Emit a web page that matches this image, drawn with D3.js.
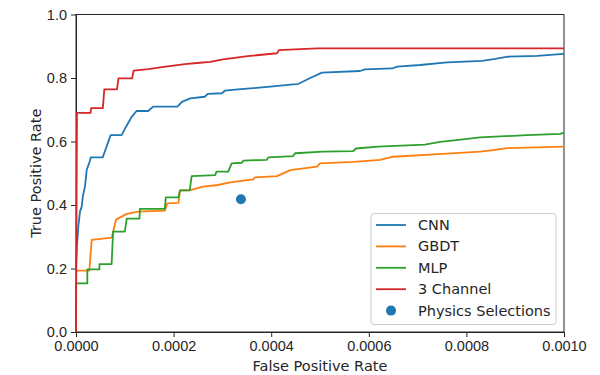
<!DOCTYPE html>
<html>
<head>
<meta charset="utf-8">
<script src="https://cdn.jsdelivr.net/npm/d3@7"></script>
<style>
  body { margin: 0; background: #fff; }
  svg { font-family: "DejaVu Sans", sans-serif; }
  .axis text { font-size: 14.5px; fill: #262626; }
  .axis path, .axis line { stroke: #262626; }
</style>
</head>
<body>
<svg id="chart"></svg>
<script>
// ROC points as [false positive rate, true positive rate]
const cnn = [
  [0, 0], [0, 0.20], [0.000002, 0.27], [0.0000047, 0.332], [0.0000082, 0.38], [0.0000117, 0.395],
  [0.0000143, 0.43], [0.0000184, 0.458], [0.0000219, 0.51], [0.0000287, 0.54], [0.000030, 0.55],
  [0.0000547, 0.55], [0.0000594, 0.57], [0.000071, 0.62], [0.0000936, 0.62], [0.000102, 0.645],
  [0.000113, 0.675], [0.000124, 0.696], [0.000148, 0.696], [0.000158, 0.71], [0.000208, 0.71],
  [0.000217, 0.725], [0.000234, 0.736], [0.000264, 0.741], [0.00027, 0.75], [0.000299, 0.752],
  [0.000305, 0.76], [0.000332, 0.764], [0.000357, 0.767], [0.000414, 0.775], [0.000445, 0.78],
  [0.000455, 0.781], [0.00048, 0.80], [0.000504, 0.817], [0.000582, 0.822], [0.000592, 0.827],
  [0.000648, 0.83], [0.000658, 0.836], [0.000705, 0.841], [0.00076, 0.849], [0.000832, 0.854],
  [0.000859, 0.86], [0.000885, 0.867], [0.000945, 0.87], [0.000992, 0.875], [0.001, 0.876]
];
const gbdt = [
  [0, 0], [0, 0.193], [0.0000273, 0.193], [0.0000322, 0.29], [0.0000732, 0.297], [0.000082, 0.354],
  [0.000104, 0.372], [0.000128, 0.379], [0.000182, 0.382], [0.000187, 0.405], [0.00021, 0.407],
  [0.000213, 0.445], [0.000234, 0.447], [0.00026, 0.458], [0.000291, 0.463], [0.000316, 0.471],
  [0.000363, 0.481], [0.000367, 0.487], [0.000412, 0.491], [0.000439, 0.51], [0.000494, 0.521],
  [0.0005, 0.531], [0.000568, 0.536], [0.000623, 0.542], [0.00065, 0.552], [0.000752, 0.561],
  [0.000828, 0.568], [0.000855, 0.573], [0.000883, 0.579], [0.001, 0.584]
];
const mlp = [
  [0, 0], [0, 0.153], [0.0000232, 0.153], [0.0000232, 0.197], [0.000048, 0.197], [0.000048, 0.214],
  [0.000073, 0.214], [0.000076, 0.316], [0.0001, 0.316], [0.000104, 0.357], [0.00013, 0.357],
  [0.000131, 0.388], [0.000182, 0.388], [0.000184, 0.424], [0.00021, 0.424], [0.000213, 0.446],
  [0.000233, 0.446], [0.000237, 0.491], [0.000285, 0.494], [0.000288, 0.505], [0.000312, 0.505],
  [0.000319, 0.531], [0.00034, 0.533], [0.000343, 0.54], [0.000391, 0.542], [0.000394, 0.55],
  [0.000445, 0.554], [0.000449, 0.563], [0.000506, 0.568], [0.000568, 0.57], [0.000574, 0.578],
  [0.000619, 0.584], [0.000715, 0.59], [0.000746, 0.599], [0.000793, 0.607], [0.000828, 0.613],
  [0.000924, 0.62], [0.000992, 0.624], [0.001, 0.628]
];
const threeChannel = [
  [0, 0], [0.000002, 0.69], [0.00003, 0.69], [0.000031, 0.705], [0.000055, 0.705], [0.000058, 0.764],
  [0.000084, 0.764], [0.000087, 0.799], [0.000115, 0.799], [0.000118, 0.823], [0.000148, 0.828],
  [0.000176, 0.834], [0.000223, 0.844], [0.000254, 0.848], [0.000275, 0.851], [0.000301, 0.859],
  [0.000352, 0.869], [0.000412, 0.878], [0.000416, 0.888], [0.000494, 0.893], [0.001, 0.893]
];
const physicsSelection = [0.000338, 0.418];

const seriesNames = ["CNN", "GBDT", "MLP", "3 Channel"];
const seriesData = [cnn, gbdt, mlp, threeChannel];
const colors = ["#1f77b4", "#ff7f0e", "#2ca02c", "#d62728"];
const pointName = "Physics Selections";
const xTicks = [0, 0.0002, 0.0004, 0.0006, 0.0008, 0.001];
const yTicks = [0, 0.2, 0.4, 0.6, 0.8, 1.0];

const svgWidth = 600, svgHeight = 375;
const margin = { top: 14.5, right: 36, bottom: 43, left: 76 };
const width = svgWidth - margin.left - margin.right;
const height = svgHeight - margin.top - margin.bottom;
const fontSize = 14.5;

const svg = d3.select("#chart").attr("width", svgWidth).attr("height", svgHeight);
const g = svg.append("g").attr("transform", `translate(${margin.left},${margin.top})`);

const x = d3.scaleLinear().domain([0, 0.001]).range([0, width]);
const y = d3.scaleLinear().domain([0, 1]).range([height, 0]);

// 坐标轴
g.append("g")
  .attr("class", "axis")
  .attr("transform", `translate(0,${height})`)
  .call(d3.axisBottom(x).tickValues(xTicks).tickFormat(d => d.toFixed(4)).tickSize(5).tickPadding(4).tickSizeOuter(0));

g.append("g")
  .attr("class", "axis")
  .call(d3.axisLeft(y).tickValues(yTicks).tickFormat(d => d.toFixed(1)).tickSize(5).tickPadding(4).tickSizeOuter(0));

// 边框
g.append("rect")
  .attr("width", width).attr("height", height)
  .attr("fill", "none").attr("stroke", "#262626").attr("stroke-width", 1);

// 曲线
const line = d3.line().x(d => x(d[0])).y(d => y(d[1]));
seriesData.forEach((data, i) => {
  g.append("path")
    .datum(data)
    .attr("d", line)
    .attr("fill", "none")
    .attr("stroke", colors[i])
    .attr("stroke-width", 1.8)
    .attr("stroke-linejoin", "round");
});

g.append("circle")
  .attr("cx", x(physicsSelection[0]))
  .attr("cy", y(physicsSelection[1]))
  .attr("r", 5)
  .attr("fill", "#1f77b4");

// 坐标轴标题
svg.append("text")
  .attr("x", margin.left + width / 2).attr("y", 371)
  .attr("text-anchor", "middle").attr("font-size", fontSize).attr("fill", "#262626")
  .text("False Positive Rate");

svg.append("text")
  .attr("transform", `translate(41,${margin.top + height / 2}) rotate(-90)`)
  .attr("text-anchor", "middle").attr("font-size", fontSize).attr("fill", "#262626")
  .text("True Positive Rate");

// 图例
const legend = svg.append("g").attr("transform", "translate(371,213.5)");
legend.append("rect")
  .attr("width", 185).attr("height", 111).attr("rx", 3)
  .attr("fill", "#fff").attr("fill-opacity", 0.8)
  .attr("stroke", "#ccc");

const rowH = 21.4;
seriesNames.forEach((name, i) => {
  const cy = 11.5 + i * rowH;
  legend.append("line")
    .attr("x1", 5).attr("x2", 35).attr("y1", cy).attr("y2", cy)
    .attr("stroke", colors[i]).attr("stroke-width", 1.8);
  legend.append("text")
    .attr("x", 47).attr("y", cy).attr("dy", "0.35em")
    .attr("font-size", fontSize).attr("fill", "#262626")
    .text(name);
});
const pcy = 11.5 + 4 * rowH;
legend.append("circle").attr("cx", 20).attr("cy", pcy).attr("r", 5).attr("fill", "#1f77b4");
legend.append("text")
  .attr("x", 47).attr("y", pcy).attr("dy", "0.35em")
  .attr("font-size", fontSize).attr("fill", "#262626")
  .text(pointName);
</script>
</body>
</html>
